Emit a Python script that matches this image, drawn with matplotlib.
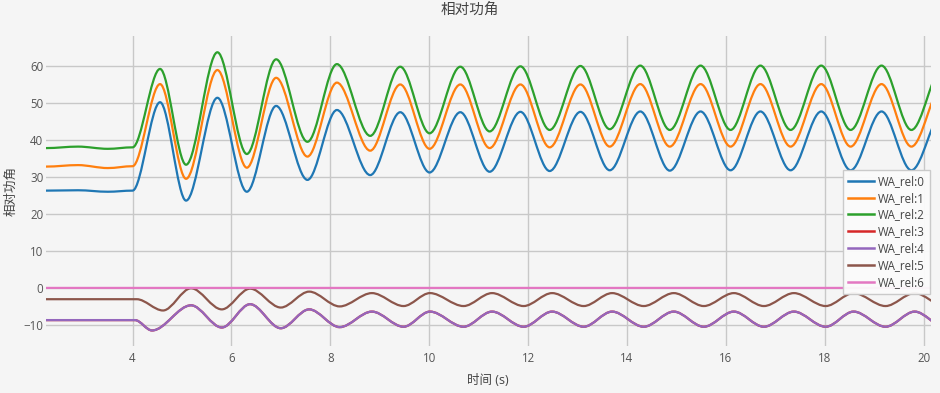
import matplotlib
matplotlib.use('Agg')
import matplotlib.pyplot as plt
from matplotlib.path import Path
from matplotlib.patches import PathPatch
from matplotlib.lines import Line2D

plt.rcParams['font.family'] = ['Open Sans', 'Noto Sans CJK SC', 'DejaVu Sans']

# ---------------- data ----------------
series_names = ['WA_rel:0', 'WA_rel:1', 'WA_rel:2', 'WA_rel:3',
                'WA_rel:4', 'WA_rel:5', 'WA_rel:6']

# extrema / key times for the three upper curves
t_upper = [2.25, 2.9, 3.5, 4.0,
           4.557, 5.083, 5.717, 6.312, 6.905, 7.538, 8.134, 8.808,
           9.415, 10.008, 10.63, 11.223, 11.846, 12.437, 13.06, 13.652,
           14.27, 14.867, 15.49, 16.096, 16.70, 17.31, 17.93, 18.524,
           19.15, 19.753, 20.4]

wa0 = [26.3, 26.4, 26.0, 26.3,
       50.2, 23.6, 51.4, 26.0, 49.2, 29.2, 48.1, 30.5,
       47.5, 31.2, 47.5, 31.4, 47.6, 31.6, 47.6, 31.8,
       47.7, 31.7, 47.7, 31.8, 47.7, 31.8, 47.7, 31.8,
       47.7, 31.8, 47.7]

wa1 = [32.8, 33.2, 32.4, 32.9,
       55.1, 29.5, 58.9, 32.5, 56.8, 35.5, 55.5, 37.1,
       55.0, 37.6, 55.0, 37.8, 55.0, 38.0, 55.0, 38.2,
       55.1, 38.2, 55.1, 38.2, 55.1, 38.2, 55.1, 38.2,
       55.1, 38.2, 55.1]

wa2 = [37.8, 38.2, 37.6, 38.0,
       59.2, 33.3, 63.7, 36.2, 61.8, 39.5, 60.5, 41.1,
       59.8, 41.8, 59.8, 42.3, 59.9, 42.7, 60.0, 42.9,
       60.1, 42.7, 60.1, 42.7, 60.1, 42.7, 60.1, 42.7,
       60.1, 42.7, 60.1]

# lower curves
t_lower_common = [5.184, 5.806, 6.378, 6.999, 7.573, 8.19, 8.842,
                  9.482, 10.016, 10.696, 11.271, 11.911, 12.486, 13.126,
                  13.70, 14.34, 14.947, 15.555, 16.162, 16.77, 17.377,
                  18.02, 18.585, 19.23, 19.82, 20.42]
t_wa4 = [2.25, 4.05, 4.395] + t_lower_common
t_wa5 = [2.25, 4.085, 4.617] + t_lower_common

wa4 = [-8.7, -8.7, -11.5,
       -4.7, -10.7, -4.4, -10.9, -5.8, -10.6, -6.4,
       -10.5, -6.4, -10.5, -6.4, -10.5, -6.4, -10.5,
       -6.4, -10.5, -6.4, -10.5, -6.4, -10.5, -6.4,
       -10.5, -6.4, -10.5, -6.4, -10.5]
wa3 = list(wa4)

wa5 = [-3.05, -3.05, -6.1,
       -0.1, -5.8, -0.2, -5.3, -1.0, -5.0, -1.4,
       -4.9, -1.4, -4.9, -1.4, -4.9, -1.4, -4.9,
       -1.4, -4.9, -1.4, -4.9, -1.4, -4.9, -1.4,
       -4.9, -1.4, -4.9, -1.4, -4.9]

t_wa6 = [2.25, 20.15]
wa6 = [0.0, 0.0]

x_ticks = [4, 6, 8, 10, 12, 14, 16, 18, 20]
y_ticks = [-10, 0, 10, 20, 30, 40, 50, 60]

colors = ['#1f77b4', '#ff7f0e', '#2ca02c', '#d62728',
          '#9467bd', '#8c564b', '#e377c2']

series = [(t_upper, wa0), (t_upper, wa1), (t_upper, wa2),
          (t_wa4, wa3), (t_wa4, wa4), (t_wa5, wa5), (t_wa6, wa6)]


def smooth_path(ts, vs):
    verts = [(ts[0], vs[0])]
    codes = [Path.MOVETO]
    for i in range(len(ts) - 1):
        x0, y0, x1, y1 = ts[i], vs[i], ts[i + 1], vs[i + 1]
        dx = x1 - x0
        verts += [(x0 + dx / 3.0, y0), (x1 - dx / 3.0, y1), (x1, y1)]
        codes += [Path.CURVE4] * 3
    return Path(verts, codes)


bg = '#f5f5f5'
fig = plt.figure(figsize=(9.4, 3.93), dpi=100, facecolor=bg)
ax = fig.add_axes([46 / 940, 1 - 346 / 393, (931 - 46) / 940, (346 - 36) / 393])
ax.set_facecolor(bg)

handles = []
for (ts, vs), c, name in zip(series, colors, series_names):
    patch = PathPatch(smooth_path(ts, vs), facecolor='none', edgecolor=c,
                      lw=1.6, zorder=3, capstyle='round', joinstyle='round')
    ax.add_patch(patch)
    handles.append(Line2D([], [], color=c, lw=1.8, label=name))

ax.set_xlim(2.25, 20.15)
ax.set_ylim(-15.7, 68.1)
ax.set_xticks(x_ticks)
ax.set_yticks(y_ticks)
ax.grid(True, color='#c8c8c8', lw=1.0, zorder=0)
ax.set_axisbelow(True)
for s in ax.spines.values():
    s.set_visible(False)
ax.tick_params(length=0, labelsize=8.3, colors='#555555')
ax.tick_params(axis='x', pad=4)
ax.tick_params(axis='y', pad=2)

fig.text(470 / 940, 1 - 10 / 393, '相对功角', ha='center', va='center',
         fontsize=10.5, color='#444444')
fig.text(488 / 940, 1 - 381 / 393, '时间 (s)', ha='center', va='center',
         fontsize=9, color='#444444')
fig.text(11 / 940, 1 - 191 / 393, '相对功角', ha='center', va='center',
         rotation=90, fontsize=9, color='#444444')

leg = ax.legend(handles=handles, loc='upper right',
                bbox_to_anchor=(930 / 940, 1 - 170 / 393),
                bbox_transform=fig.transFigure, borderaxespad=0,
                fontsize=8.3, handlelength=2.2, handletextpad=0.4,
                labelspacing=0.33, borderpad=0.42, fancybox=False,
                frameon=True, facecolor='#fbfbfb', edgecolor='#c8c8c8',
                framealpha=0.95)
leg.get_frame().set_linewidth(1.0)
for t in leg.get_texts():
    t.set_color('#444444')
leg.set_zorder(5)

fig.savefig('out.png', dpi=100, facecolor=bg)
